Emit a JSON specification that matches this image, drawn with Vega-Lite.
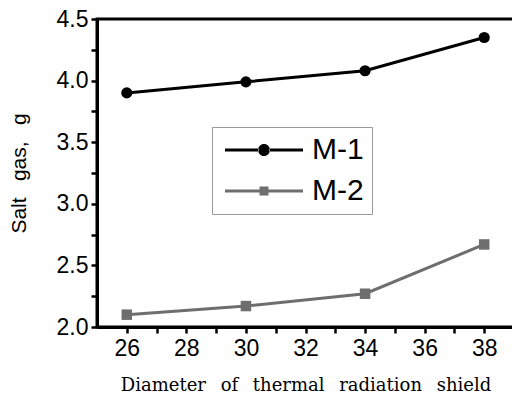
{
  "$schema": "https://vega.github.io/schema/vega-lite/v6.json",
  "autosize": "none",
  "width": 417,
  "height": 308,
  "padding": {"left": 97, "top": 19, "right": 0, "bottom": 74},
  "background": "white",
  "config": {
    "view": {"stroke": "black", "strokeWidth": 3},
    "axis": {"grid": false, "ticks": true, "tickOpacity": 1, "domainColor": "black", "domainWidth": 3, "tickColor": "black", "tickWidth": 2.5, "tickSize": 6, "labelFont": "Liberation Sans", "labelFontSize": 23, "labelColor": "black", "titleColor": "black", "titleFontWeight": "normal"}
  },
  "data": {"values": [
    {"d": 26, "v": 3.90, "s": "M-1"},
    {"d": 30, "v": 3.99, "s": "M-1"},
    {"d": 34, "v": 4.08, "s": "M-1"},
    {"d": 38, "v": 4.35, "s": "M-1"},
    {"d": 26, "v": 2.10, "s": "M-2"},
    {"d": 30, "v": 2.17, "s": "M-2"},
    {"d": 34, "v": 2.27, "s": "M-2"},
    {"d": 38, "v": 2.67, "s": "M-2"}
  ]},
  "encoding": {
    "x": {"field": "d", "type": "quantitative", "scale": {"domain": [25, 39], "nice": false, "zero": false},
      "axis": {"values": [26, 27, 28, 29, 30, 31, 32, 33, 34, 35, 36, 37, 38], "ticks": true,
        "labelExpr": "datum.value % 2 == 0 ? datum.label : ''",
        "encode": {"ticks": {"update": {"y2": {"signal": "datum.value % 2 == 0 ? 6 : 3"}}}},
        "labelPadding": 4, "title": "Diameter\u00a0\u2002of\u00a0\u2002thermal\u00a0\u2002radiation\u00a0\u2002shield",
        "titleFont": "DejaVu Serif", "titleFontSize": 18, "titlePadding": 16}},
    "y": {"field": "v", "type": "quantitative", "scale": {"domain": [2, 4.5], "nice": false, "zero": false},
      "axis": {"values": [2, 2.25, 2.5, 2.75, 3, 3.25, 3.5, 3.75, 4, 4.25, 4.5], "format": ".1f", "ticks": true,
        "labelExpr": "(datum.value * 2) % 1 == 0 ? datum.label : ''",
        "encode": {"ticks": {"update": {"x2": {"signal": "(datum.value * 2) % 1 == 0 ? -6 : -3"}}}},
        "labelPadding": 3, "title": "Salt\u00a0\u2002gas,\u00a0\u2002g",
        "titleFont": "Liberation Sans", "titleFontSize": 21, "titlePadding": 27}},
    "color": {"field": "s", "type": "nominal", "title": null, "scale": {"domain": ["M-1", "M-2"], "range": ["#000000", "#6e6e6e"]},
      "legend": {"orient": "none", "legendX": 115, "legendY": 108, "strokeColor": "#999999", "fillColor": "white", "padding": 8,
        "labelFont": "Liberation Sans", "labelFontSize": 30, "labelColor": "black",
        "symbolSize": 144, "symbolStrokeWidth": 0, "symbolOffset": 29, "labelOffset": 33, "rowPadding": 11,
        "encode": {"symbols": {"update": {
          "shape": {"signal": "datum.value === 'M-1' ? 'M-6.5,-0.25H-0.9V0.25H-6.5Z M0.9,-0.25H6.5V0.25H0.9Z M-1,0A1,1 0 1,0 1,0A1,1 0 1,0 -1,0Z' : 'M-6.5,-0.25H-0.75V0.25H-6.5Z M0.75,-0.25H6.5V0.25H0.75Z M-0.75,-0.75H0.75V0.75H-0.75Z'"},
          "fill": {"signal": "datum.value === 'M-1' ? '#000000' : '#6e6e6e'"},
          "stroke": {"value": "transparent"},
          "opacity": {"value": 1},
          "size": {"value": 144}
        }}}}}
  },
  "layer": [
    {
      "mark": {"type": "line", "strokeWidth": 3}
    },
    {
      "transform": [{"filter": "datum.s === 'M-1'"}],
      "mark": {"type": "point", "shape": "circle", "size": 125, "filled": true, "opacity": 1, "strokeWidth": 0}
    },
    {
      "transform": [{"filter": "datum.s === 'M-2'"}],
      "mark": {"type": "point", "shape": "square", "size": 110, "filled": true, "opacity": 1, "strokeWidth": 0}
    }
  ]
}
